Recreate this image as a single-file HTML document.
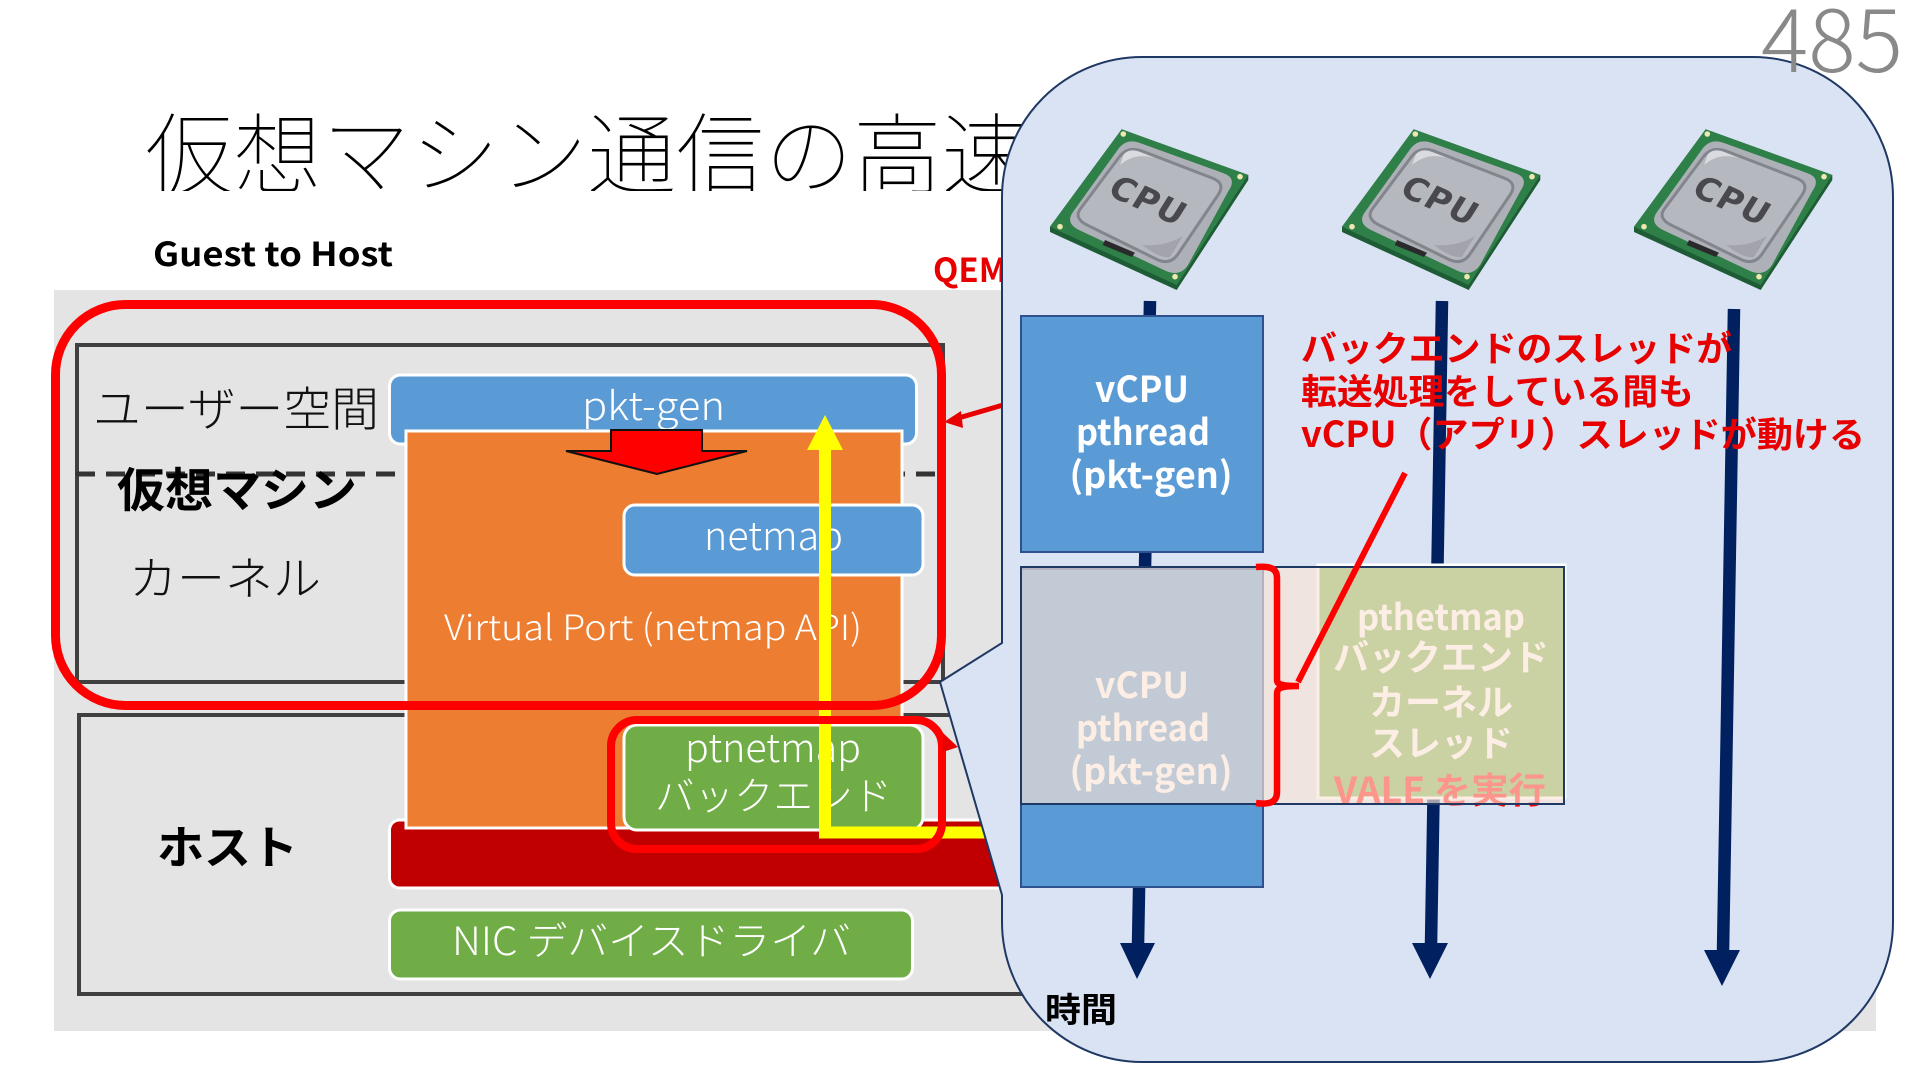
<!DOCTYPE html>
<html lang="ja"><head><meta charset="utf-8"><title>仮想マシン通信の高速化</title>
<style>
html,body{margin:0;padding:0;background:#fff}
svg{display:block}
text{font-family:"Noto Sans CJK JP","Liberation Sans",sans-serif}
.w{fill:#fff;font-weight:300}
.k{fill:#111;font-weight:300}
.b{font-weight:700}
.wb{fill:#fff;font-weight:700;font-size:36px;text-anchor:middle}
.r{fill:#e80000;font-weight:700;font-size:35.5px}
</style></head><body>
<svg xmlns="http://www.w3.org/2000/svg" width="1920" height="1080" viewBox="0 0 1920 1080">
<defs>
<clipPath id="tc"><rect x="0" y="100" width="1100" height="91"/></clipPath>
<g id="cpu">
 <polygon points="1121.7,129.3 1248.3,175 1248.3,180 1176.7,290 1050,232 1050,226.7" fill="#1d5c34"/>
 <polygon points="1121.7,129.3 1248.3,175 1176.7,285 1050,226.7" fill="#2f7f48"/>
 <path d="M1140,143 L1223,173 Q1237,178 1229,190 L1188,265 Q1180,277 1166,271 L1079,230 Q1065,223 1073,212 L1119,148 Q1127,138 1140,143Z" fill="#aeb0b8"/>
 <path d="M1142,151 L1212,178 Q1226,183 1218,195 L1178,254 Q1170,266 1156,259 L1087,225 Q1073,218 1081,208 L1120,156 Q1128,146 1142,151Z" fill="#b6b8bf" stroke="#83858d" stroke-width="3"/>
 <path d="M1120,165 L1124,154 Q1130,148 1140,152 L1155,158 Q1135,152 1120,165Z" fill="#d9dbe1"/>
 <path d="M1142,245 Q1165,247 1183,236 L1170,257 Q1160,259 1142,245Z" fill="#a3a4ab"/>
 <polygon points="1105,240 1135,252.7 1132,257 1102.7,245" fill="#2a2a2c"/>
 <circle cx="1123.3" cy="134" r="2.8" fill="#efe7b0"/><circle cx="1240" cy="176.7" r="2.8" fill="#efe7b0"/>
 <circle cx="1175" cy="276.7" r="2.8" fill="#efe7b0"/><circle cx="1060" cy="226.7" r="2.8" fill="#efe7b0"/>
 <text transform="translate(1148,200) rotate(24) skewX(-8)" x="0" y="12" text-anchor="middle" font-size="33" textLength="78" style="font-family:'DejaVu Sans',sans-serif;font-weight:700" fill="#48484e">CPU</text>
</g>
</defs>

<!-- title -->
<g clip-path="url(#tc)"><text x="145" y="187" font-size="88.5" font-weight="100" fill="#000">仮想マシン通信の高速化</text></g>
<text x="153" y="266" font-size="33" class="b" fill="#000" textLength="240" lengthAdjust="spacingAndGlyphs">Guest to Host</text>
<text x="933" y="282" font-size="33" class="b" fill="#e80000">QEMU</text>

<!-- backdrop -->
<rect x="54" y="290" width="1822" height="741" fill="#e4e4e4"/>
<rect x="77" y="345" width="866" height="337" fill="none" stroke="#404040" stroke-width="4"/>
<rect x="79" y="715" width="1200" height="279" fill="none" stroke="#404040" stroke-width="4"/>
<line x1="76" y1="474" x2="942" y2="474" stroke="#333" stroke-width="5" stroke-dasharray="19 11"/>

<text x="93" y="426" font-size="47" class="k" textLength="286" lengthAdjust="spacingAndGlyphs">ユーザー空間</text>
<text x="117" y="507" font-size="47" class="b" fill="#000" textLength="240" lengthAdjust="spacingAndGlyphs">仮想マシン</text>
<text x="129" y="595" font-size="46" class="k" textLength="192" lengthAdjust="spacingAndGlyphs">カーネル</text>
<text x="157" y="864" font-size="46" class="b" fill="#000" textLength="141" lengthAdjust="spacingAndGlyphs">ホスト</text>

<!-- pkt-gen -->
<rect x="389.5" y="375" width="527" height="69" rx="11" fill="#5b9bd5" stroke="#fff" stroke-width="3"/>
<text x="582" y="420" font-size="39" class="w" textLength="143" lengthAdjust="spacingAndGlyphs">pkt-gen</text>
<!-- dark red -->
<rect x="389.5" y="820" width="800" height="68" rx="10" fill="#c00000" stroke="#fff" stroke-width="3"/>
<!-- orange -->
<rect x="406" y="431" width="496" height="397" fill="#ed7d31" stroke="#fff" stroke-width="3"/>
<text x="444" y="640" font-size="35" class="w" textLength="418" lengthAdjust="spacingAndGlyphs">Virtual Port (netmap API)</text>
<!-- netmap -->
<rect x="624" y="505" width="299" height="70" rx="11" fill="#5b9bd5" stroke="#fff" stroke-width="3"/>
<text x="704" y="550" font-size="39" class="w" textLength="139" lengthAdjust="spacingAndGlyphs">netmap</text>
<!-- ptnetmap -->
<rect x="624" y="725" width="299" height="105" rx="13" fill="#70ad47" stroke="#fff" stroke-width="3"/>
<text x="685" y="762" font-size="39" class="w" textLength="176" lengthAdjust="spacingAndGlyphs">ptnetmap</text>
<text x="655" y="810" font-size="39" class="w" textLength="237" lengthAdjust="spacingAndGlyphs">バックエンド</text>
<!-- NIC -->
<rect x="389.5" y="910" width="523" height="69" rx="11" fill="#70ad47" stroke="#fff" stroke-width="3"/>
<text x="452" y="955" font-size="39" class="w" textLength="399" lengthAdjust="spacingAndGlyphs">NIC デバイスドライバ</text>

<!-- red block arrow -->
<polygon points="611,430 702,430 702,451 747,451 657,474 566,451 611,451" fill="#ff0000" stroke="#111" stroke-width="2"/>
<!-- yellow -->
<path d="M825 450V832.5H1040" fill="none" stroke="#ffff00" stroke-width="12"/>
<polygon points="825,415 843,450 807,450" fill="#ffff00"/>
<!-- red outlines -->
<rect x="55.5" y="304.5" width="886" height="401" rx="70" fill="none" stroke="#ff0000" stroke-width="9"/>
<rect x="611" y="720" width="331" height="129" rx="26" fill="none" stroke="#ff0000" stroke-width="8"/>
<line x1="1010" y1="403" x2="955" y2="419" stroke="#e80000" stroke-width="5"/>
<polygon points="944,422 961,411 963,428" fill="#e80000"/>
<polygon points="958,747 943,733 943,752" fill="#e80000"/>

<!-- callout panel -->
<path d="M1142 57H1753A140 140 0 0 1 1893 197V922A140 140 0 0 1 1753 1062H1142A140 140 0 0 1 1002 922V895L940 682L1002 643V197A140 140 0 0 1 1142 57Z" fill="#dae3f3" stroke="#203864" stroke-width="2"/>

<use href="#cpu"/>
<use href="#cpu" x="292"/>
<use href="#cpu" x="584"/>

<!-- timeline lines -->
<g stroke="#002060" stroke-width="12.5" fill="none">
<line x1="1150" y1="301" x2="1138" y2="945"/>
<line x1="1442" y1="301" x2="1431" y2="945"/>
<line x1="1734" y1="309" x2="1723" y2="952"/>
</g>
<g fill="#002060">
<polygon points="1120,943 1155,943 1137,979"/>
<polygon points="1412,943 1448,943 1430,979"/>
<polygon points="1704,950 1740,950 1722,986"/>
</g>

<!-- vCPU boxes -->
<rect x="1021" y="316" width="242" height="236" fill="#5b9bd5" stroke="#2f528f" stroke-width="2"/>
<text x="1142" y="402" class="wb" textLength="94" lengthAdjust="spacingAndGlyphs">vCPU</text>
<text x="1143" y="445" class="wb" textLength="134" lengthAdjust="spacingAndGlyphs">pthread</text>
<text x="1151" y="488" class="wb" textLength="163" lengthAdjust="spacing">(pkt-gen)</text>

<rect x="1021" y="569" width="242" height="318" fill="#5b9bd5" stroke="#2f528f" stroke-width="2"/>
<text x="1142" y="698" class="wb" textLength="94" lengthAdjust="spacingAndGlyphs">vCPU</text>
<text x="1143" y="741" class="wb" textLength="134" lengthAdjust="spacingAndGlyphs">pthread</text>
<text x="1151" y="784" class="wb" textLength="163" lengthAdjust="spacing">(pkt-gen)</text>

<!-- backend thread -->
<rect x="1318" y="565" width="247" height="233" fill="#70ad47" stroke="#fff" stroke-width="3"/>
<text x="1441" y="630" class="wb" textLength="168" lengthAdjust="spacingAndGlyphs">pthetmap</text>
<text x="1441" y="670" class="wb">バックエンド</text>
<text x="1441" y="715" class="wb">カーネル</text>
<text x="1441" y="756" class="wb">スレッド</text>
<text x="1440" y="803" class="wb" style="fill:#ff0000" textLength="212" lengthAdjust="spacingAndGlyphs">VALE を実行</text>

<!-- translucent overlay -->
<rect x="1021" y="567" width="543" height="237" fill="#fbe5d6" fill-opacity=".65" stroke="#203864" stroke-width="2"/>

<!-- brace + pointer -->
<path d="M1256 567C1270 566 1277 568 1277 578V680C1277 684 1280 686 1299 686C1280 686 1277 688 1277 694V792C1277 802 1270 805 1256 803" fill="none" stroke="#ff0000" stroke-width="6.5"/>
<line x1="1405" y1="473" x2="1298" y2="682" stroke="#ff0000" stroke-width="6"/>

<text x="1301" y="361" class="r" textLength="431" lengthAdjust="spacingAndGlyphs">バックエンドのスレッドが</text>
<text x="1301" y="404" class="r" textLength="393" lengthAdjust="spacingAndGlyphs">転送処理をしている間も</text>
<text x="1301" y="447" class="r" textLength="564" lengthAdjust="spacingAndGlyphs">vCPU（アプリ）スレッドが動ける</text>

<text x="1045" y="1022" font-size="34" font-weight="700" fill="#000" textLength="72" lengthAdjust="spacingAndGlyphs">時間</text>
<text x="1761" y="72" font-size="86" font-weight="300" fill="#898989" textLength="142" lengthAdjust="spacingAndGlyphs">485</text>
</svg>
</body></html>
